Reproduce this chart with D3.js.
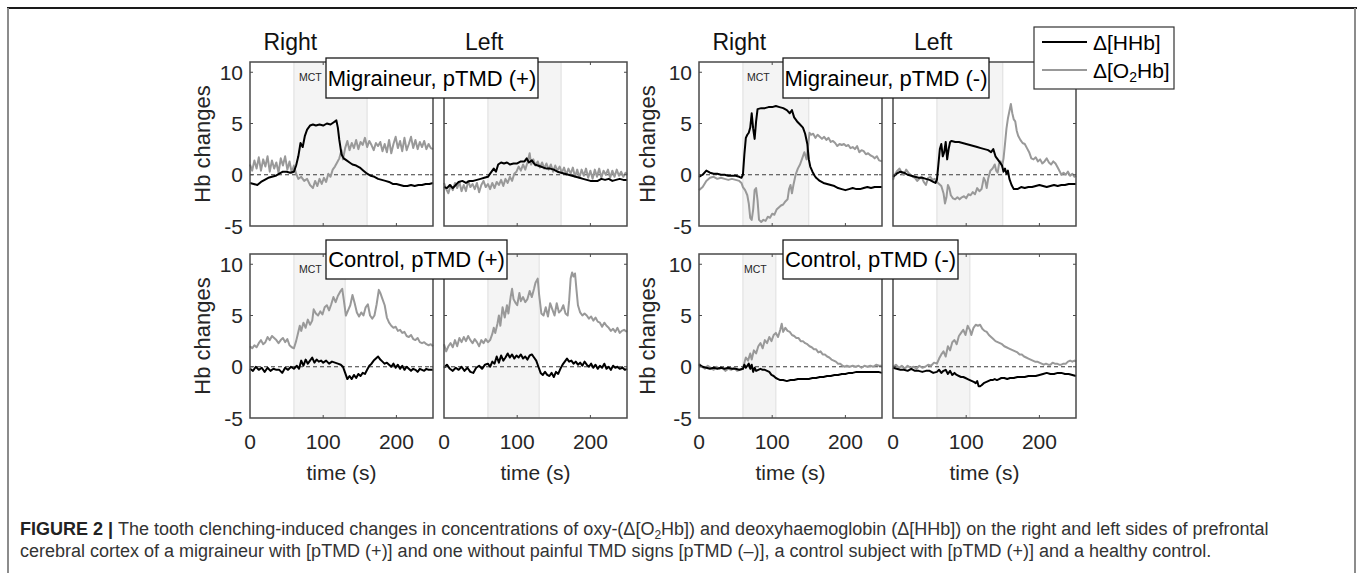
<!DOCTYPE html>
<html lang="en">
<head>
<meta charset="UTF-8">
<title>Figure 2 | Hb changes</title>
<style>
  * { box-sizing: border-box; }
  body { margin: 0; background: #fff; font-family: 'Liberation Sans', Arial, sans-serif; }
  svg text { font-family: 'Liberation Sans', Arial, sans-serif; }
</style>
</head>
<body>
<div id="chart"></div>
<script src="https://cdn.jsdelivr.net/npm/d3@7"></script>
<script>
// axis settings
const xDomain = [0, 250];
const yDomain = [-5, 11];
const xTicks = [0, 100, 200];
const yTicks = [-5, 0, 5, 10];
const sides = ['Right', 'Left'];
const groupLabels = ['Migraineur, pTMD (+)', 'Migraineur, pTMD (-)', 'Control, pTMD (+)', 'Control, pTMD (-)'];
// MCT (clenching) interval per subject, seconds
const mctIntervals = [[60, 160], [60, 150], [60, 130], [60, 105]];

// [time s, value]
const migPosRightHHb = [[0,-0.8],[5,-0.9],[10,-1.0],[15,-0.7],[20,-0.5],[25,-0.3],[30,-0.2],[35,-0.1],[40,0.1],[45,0.3],[50,0.3],[55,0.2],[60,0.3],[63,0.9],[66,1.8],[69,3.1],[72,2.7],[75,3.8],[78,4.4],[82,4.8],[86,4.9],[90,4.8],[95,4.9],[100,4.8],[105,5.0],[110,4.9],[114,5.1],[118,5.3],[120,4.6],[122,3.4],[125,2.0],[128,1.6],[132,1.4],[136,1.2],[140,1.0],[145,0.9],[150,0.7],[155,0.4],[160,0.1],[165,-0.1],[170,-0.2],[175,-0.4],[180,-0.5],[185,-0.6],[190,-0.7],[195,-0.9],[200,-0.9],[205,-1.0],[210,-1.1],[215,-1.1],[220,-1.0],[225,-1.1],[230,-1.0],[235,-1.0],[240,-0.9],[245,-0.9],[250,-0.8]];
const migPosRightO2Hb = [[0,1.0],[3,0.4],[6,1.4],[9,0.6],[12,1.7],[15,0.4],[18,1.5],[21,0.8],[24,1.8],[27,0.3],[30,1.4],[33,0.6],[36,1.2],[39,0.2],[42,1.6],[45,0.9],[48,1.8],[51,0.5],[54,1.3],[57,0.2],[60,0.9],[63,0.1],[66,-0.4],[70,-0.2],[74,-0.6],[78,-0.4],[82,-1.0],[86,-1.3],[89,-0.6],[92,-1.1],[95,-0.4],[98,-0.9],[101,-0.3],[104,-0.7],[107,0.1],[110,-0.2],[113,0.5],[116,0.8],[119,1.2],[122,1.6],[125,2.4],[127,1.5],[130,2.6],[133,3.3],[136,2.4],[139,3.1],[142,2.6],[145,3.4],[148,2.5],[151,3.2],[154,2.9],[157,3.6],[160,2.7],[163,3.3],[166,2.9],[169,2.4],[172,3.1],[175,2.8],[178,3.2],[181,2.3],[184,3.0],[187,2.2],[190,3.4],[193,2.1],[196,3.0],[199,3.7],[202,2.6],[205,3.3],[208,2.3],[211,3.6],[214,2.4],[217,3.0],[220,3.7],[223,2.6],[226,3.4],[229,2.5],[232,3.2],[235,2.7],[238,3.3],[241,2.5],[244,3.0],[247,2.6],[250,2.5]];
const migPosLeftHHb = [[0,-1.2],[4,-1.3],[8,-1.0],[12,-1.3],[16,-1.0],[20,-0.7],[25,-0.6],[30,-0.8],[35,-0.6],[40,-0.6],[45,-0.5],[50,-0.4],[55,-0.3],[60,-0.2],[64,0.2],[68,0.6],[71,0.3],[74,1.0],[78,1.2],[82,1.1],[86,1.2],[90,1.0],[95,1.1],[100,1.1],[105,1.3],[110,1.3],[113,1.6],[116,1.2],[120,1.4],[124,1.0],[128,0.9],[132,0.8],[136,0.7],[140,0.6],[145,0.6],[150,0.5],[155,0.3],[160,0.2],[165,0.1],[170,0.0],[175,-0.1],[180,-0.2],[185,-0.3],[190,-0.4],[195,-0.5],[200,-0.6],[205,-0.6],[210,-0.6],[215,-0.4],[220,-0.5],[225,-0.4],[230,-0.6],[235,-0.5],[240,-0.4],[245,-0.5],[250,-0.5]];
const migPosLeftO2Hb = [[0,-0.8],[3,-1.4],[6,-1.8],[9,-1.0],[12,-1.5],[15,-0.8],[18,-1.3],[21,-0.7],[24,-1.6],[27,-1.0],[30,-1.6],[33,-0.6],[36,-1.2],[39,-0.9],[42,-1.4],[45,-0.8],[48,-1.7],[51,-1.0],[54,-0.6],[57,-1.2],[60,-0.9],[63,-1.4],[66,-0.8],[69,-1.3],[72,-0.7],[75,-1.0],[78,-0.5],[81,-1.1],[84,-0.4],[87,-0.8],[90,-0.2],[93,-0.6],[96,0.1],[99,0.3],[102,0.8],[105,0.4],[108,1.0],[111,0.5],[114,1.2],[117,2.1],[119,1.0],[122,1.5],[125,0.9],[128,1.3],[131,0.7],[134,1.2],[137,0.6],[140,1.1],[143,0.5],[146,1.0],[149,0.3],[152,0.9],[155,0.4],[158,0.8],[161,0.2],[164,0.7],[167,0.0],[170,0.6],[173,0.1],[176,0.7],[179,-0.2],[182,0.5],[185,-0.3],[188,0.5],[191,-0.1],[194,0.6],[197,-0.3],[200,0.4],[203,-0.4],[206,0.5],[209,-0.2],[212,0.6],[215,-0.3],[218,0.4],[221,0.0],[224,0.5],[227,-0.3],[230,0.4],[233,-0.2],[236,0.5],[239,-0.1],[242,0.3],[245,-0.2],[248,0.2],[250,0.0]];

const migNegRightHHb = [[0,-0.2],[5,0.0],[10,0.4],[15,0.2],[20,0.1],[25,0.1],[30,0.0],[35,0.0],[40,-0.1],[45,-0.1],[50,-0.1],[55,-0.2],[58,-0.3],[60,0.0],[62,2.0],[64,3.6],[66,3.9],[68,4.1],[70,4.6],[72,6.0],[74,4.5],[76,3.5],[78,5.2],[80,6.4],[85,6.5],[90,6.5],[95,6.6],[100,6.6],[105,6.7],[110,6.6],[115,6.5],[120,6.3],[124,6.0],[127,6.3],[130,5.6],[134,5.2],[138,4.9],[142,4.6],[145,4.0],[148,3.0],[150,1.5],[152,0.8],[155,0.3],[158,-0.1],[160,-0.3],[165,-0.6],[170,-0.8],[175,-0.9],[180,-1.0],[185,-1.1],[190,-1.3],[195,-1.4],[200,-1.5],[205,-1.4],[210,-1.3],[215,-1.4],[220,-1.4],[225,-1.3],[230,-1.2],[235,-1.3],[240,-1.2],[245,-1.2],[250,-1.2]];
const migNegRightO2Hb = [[0,-1.5],[5,-1.2],[10,-0.6],[15,-0.3],[20,-0.2],[25,-0.4],[30,-0.3],[35,-0.4],[40,-0.5],[45,-0.4],[50,-0.5],[55,-0.6],[58,-0.8],[60,-1.2],[63,-1.5],[66,-2.0],[68,-2.8],[70,-4.2],[72,-4.4],[74,-3.4],[76,-1.5],[78,-1.3],[80,-2.5],[82,-4.4],[85,-4.6],[88,-4.4],[91,-4.5],[94,-4.1],[97,-4.2],[100,-3.8],[103,-3.9],[106,-3.4],[109,-3.2],[112,-3.0],[115,-2.9],[118,-2.6],[121,-2.4],[123,-1.4],[125,-1.0],[127,-1.8],[129,-1.0],[132,0.0],[135,0.6],[138,1.0],[141,1.6],[144,2.2],[147,1.5],[149,2.8],[151,4.1],[153,3.9],[156,4.0],[159,3.6],[162,3.9],[165,3.7],[168,3.5],[171,3.7],[174,3.4],[177,3.6],[180,3.2],[183,3.3],[186,3.1],[189,2.8],[192,3.0],[195,2.9],[198,3.0],[201,2.8],[204,2.9],[207,2.6],[210,2.7],[213,2.5],[216,2.8],[219,2.2],[222,2.4],[225,2.3],[228,2.0],[231,2.1],[234,1.9],[237,1.8],[240,1.6],[243,1.8],[246,1.4],[250,1.3]];
const migNegLeftHHb = [[0,-0.2],[5,0.1],[10,0.3],[15,0.2],[20,0.0],[25,-0.1],[30,-0.2],[35,-0.3],[40,-0.3],[45,-0.4],[50,-0.5],[55,-0.7],[58,-0.8],[60,-0.5],[62,1.0],[64,2.5],[66,3.0],[68,1.8],[70,2.2],[72,3.2],[74,1.5],[76,2.5],[78,3.2],[80,3.3],[85,3.2],[90,3.2],[95,3.1],[100,3.0],[105,2.9],[110,2.8],[115,2.7],[120,2.6],[125,2.5],[130,2.4],[134,2.2],[137,2.5],[140,1.8],[143,1.5],[146,1.2],[149,0.9],[151,0.3],[153,0.6],[155,0.1],[157,0.4],[159,-0.4],[162,-1.0],[165,-1.4],[170,-1.4],[175,-1.2],[180,-1.3],[185,-1.2],[190,-1.2],[195,-1.1],[200,-1.0],[205,-1.1],[210,-1.2],[215,-1.1],[220,-1.0],[225,-1.1],[230,-1.0],[235,-1.0],[240,-0.9],[245,-0.9],[250,-0.9]];
const migNegLeftO2Hb = [[0,-0.5],[3,0.1],[6,0.4],[9,0.6],[12,0.2],[15,0.0],[18,0.5],[21,0.2],[24,0.0],[27,-0.2],[30,-0.3],[33,-0.6],[36,-0.4],[39,-0.2],[42,-0.7],[45,-1.0],[48,-0.3],[51,-0.2],[54,-0.5],[57,-0.4],[60,-0.7],[63,-0.9],[66,-1.1],[69,-1.8],[71,-2.8],[73,-2.2],[75,-1.0],[77,-1.3],[79,-2.0],[82,-2.3],[85,-2.4],[88,-2.2],[91,-2.4],[94,-2.2],[97,-2.1],[100,-2.3],[103,-1.9],[106,-2.0],[109,-1.7],[112,-1.9],[115,-1.3],[118,-1.6],[121,-1.4],[124,-0.3],[126,-0.6],[128,-1.3],[130,-0.4],[133,0.4],[136,0.6],[139,1.0],[141,0.4],[143,0.2],[145,1.1],[147,1.3],[149,0.8],[151,1.6],[153,3.0],[155,4.5],[157,5.5],[159,6.2],[161,6.9],[163,6.0],[165,5.4],[167,5.2],[169,4.3],[171,3.8],[174,3.4],[177,3.1],[180,3.0],[183,2.6],[186,2.2],[189,1.6],[192,1.5],[195,1.7],[198,1.3],[201,1.5],[204,1.1],[207,1.3],[210,1.6],[213,1.2],[216,1.0],[219,1.3],[222,1.1],[225,0.7],[228,0.3],[230,0.0],[233,0.2],[236,0.0],[239,0.3],[242,-0.1],[245,0.1],[248,-0.2],[250,-0.1]];

const ctlPosRightHHb = [[0,-0.2],[4,-0.4],[8,0.0],[12,-0.3],[16,-0.1],[20,-0.5],[24,-0.1],[28,-0.4],[32,-0.2],[36,-0.3],[40,-0.3],[44,-0.6],[48,-0.1],[52,-0.3],[56,0.0],[60,-0.2],[64,0.1],[67,-0.2],[70,0.6],[73,0.1],[76,0.7],[79,0.3],[82,0.6],[85,0.9],[88,0.4],[91,0.7],[94,0.5],[97,0.6],[100,0.4],[104,0.6],[108,0.3],[112,0.5],[116,0.4],[120,0.3],[124,0.2],[127,0.0],[130,-0.6],[133,-1.2],[136,-0.9],[139,-1.2],[142,-0.8],[145,-1.1],[148,-0.7],[151,-0.9],[154,-0.6],[157,-0.7],[160,-0.3],[163,0.1],[166,0.3],[169,0.6],[172,0.8],[175,1.0],[178,0.7],[181,0.5],[184,0.3],[187,0.4],[190,0.2],[193,0.0],[196,0.3],[199,-0.1],[202,0.2],[205,-0.2],[208,0.1],[211,-0.3],[214,0.0],[217,-0.2],[220,-0.4],[223,-0.2],[226,-0.3],[229,-0.5],[232,-0.2],[235,-0.3],[238,-0.4],[241,-0.2],[244,-0.3],[247,-0.3],[250,-0.3]];
const ctlPosRightO2Hb = [[0,2.0],[3,1.8],[6,2.1],[9,1.9],[12,2.3],[15,2.6],[18,2.2],[21,2.4],[24,2.9],[27,2.6],[30,3.0],[33,2.8],[36,2.6],[39,2.3],[42,2.6],[45,2.8],[48,2.4],[51,2.7],[54,2.1],[57,1.9],[60,1.8],[63,2.5],[66,3.4],[68,4.0],[70,3.5],[73,4.3],[76,3.8],[79,4.6],[82,4.1],[85,4.5],[87,5.6],[90,5.2],[93,5.0],[96,5.4],[99,5.1],[102,5.8],[105,6.0],[108,5.5],[111,6.1],[114,6.8],[117,6.3],[120,6.9],[123,7.3],[126,7.6],[128,6.6],[131,5.0],[134,5.5],[137,6.0],[140,7.0],[143,6.2],[146,5.3],[149,4.9],[152,5.3],[155,5.0],[158,5.8],[161,6.1],[164,5.0],[167,4.7],[170,5.0],[173,6.1],[176,7.5],[178,7.2],[181,6.6],[184,6.0],[187,4.8],[190,4.3],[193,4.0],[196,3.8],[199,3.9],[202,3.5],[205,3.6],[208,3.3],[211,3.4],[214,3.0],[217,2.9],[220,3.1],[223,2.7],[226,2.6],[229,2.8],[232,2.4],[235,2.3],[238,2.4],[241,2.2],[244,2.1],[247,2.2],[250,2.0]];
const ctlPosLeftHHb = [[0,-0.1],[4,0.2],[8,-0.2],[12,-0.4],[16,-0.1],[20,-0.3],[24,0.0],[28,-0.4],[32,-0.1],[36,-0.5],[40,-0.6],[44,-0.1],[48,0.1],[52,-0.2],[56,0.2],[60,0.3],[63,0.0],[66,0.5],[69,0.3],[72,1.0],[75,0.4],[78,1.1],[81,0.6],[84,0.9],[87,1.3],[90,0.9],[93,1.2],[96,0.8],[99,1.1],[102,0.9],[105,1.2],[108,0.8],[111,1.0],[114,0.7],[117,1.1],[120,1.2],[123,0.9],[126,0.6],[129,0.0],[132,-0.6],[135,-0.8],[138,-0.5],[141,-0.8],[144,-0.9],[147,-0.6],[150,-1.0],[153,-0.5],[156,-0.7],[159,-0.2],[162,0.2],[165,0.5],[168,0.8],[171,0.5],[174,0.6],[177,0.3],[180,0.5],[183,0.2],[186,0.4],[189,0.1],[192,0.5],[195,0.2],[198,0.0],[201,0.3],[204,-0.1],[207,0.2],[210,-0.2],[213,0.1],[216,-0.1],[219,0.3],[222,-0.2],[225,0.0],[228,-0.3],[231,0.1],[234,-0.1],[237,0.0],[240,-0.2],[244,-0.1],[247,-0.3],[250,-0.2]];
const ctlPosLeftO2Hb = [[0,2.2],[3,1.5],[6,2.0],[9,2.3],[12,1.9],[15,2.6],[18,2.0],[21,2.8],[24,2.4],[27,2.9],[30,2.5],[33,3.0],[36,2.6],[39,2.3],[42,2.7],[45,2.4],[48,2.0],[51,2.6],[54,2.3],[57,2.7],[60,2.4],[63,2.6],[66,3.2],[68,3.8],[70,3.3],[73,4.2],[75,5.0],[77,4.0],[80,5.8],[83,4.8],[86,6.0],[88,5.2],[91,6.8],[93,7.6],[95,6.6],[98,6.2],[100,6.0],[103,7.2],[105,6.4],[108,6.8],[111,6.3],[114,6.6],[117,7.4],[120,6.8],[123,7.6],[125,8.2],[128,8.6],[130,7.0],[133,5.2],[136,5.0],[139,5.8],[142,4.9],[145,6.2],[148,5.6],[151,5.0],[154,6.2],[157,5.3],[160,5.5],[163,6.0],[166,5.2],[169,5.0],[171,6.5],[173,8.6],[175,9.2],[177,8.8],[179,9.1],[181,7.5],[183,6.0],[186,5.3],[189,5.0],[192,5.2],[195,5.0],[198,4.7],[201,4.9],[204,4.5],[207,4.8],[210,4.4],[213,4.3],[216,3.9],[219,4.3],[222,4.0],[225,3.8],[228,3.5],[231,3.7],[234,3.4],[237,3.8],[240,3.3],[243,3.5],[246,3.6],[250,3.4]];

const ctlNegRightHHb = [[0,0.2],[5,0.0],[10,-0.1],[15,-0.2],[20,-0.1],[25,-0.2],[30,-0.1],[35,-0.2],[40,-0.1],[45,-0.2],[50,-0.2],[55,-0.3],[60,-0.2],[62,0.2],[64,-0.1],[66,0.1],[68,0.3],[70,-0.2],[72,0.2],[74,-0.5],[76,-0.1],[78,-0.4],[81,-0.3],[84,-0.2],[87,-0.3],[90,-0.3],[93,-0.4],[96,-0.5],[99,-0.8],[102,-0.9],[105,-1.1],[108,-1.2],[111,-1.3],[115,-1.3],[120,-1.4],[125,-1.3],[130,-1.3],[135,-1.2],[140,-1.2],[145,-1.2],[150,-1.2],[155,-1.1],[160,-1.1],[165,-1.0],[170,-1.0],[175,-0.9],[180,-0.9],[185,-0.8],[190,-0.8],[195,-0.7],[200,-0.7],[205,-0.6],[210,-0.6],[215,-0.5],[220,-0.5],[225,-0.5],[230,-0.5],[235,-0.5],[240,-0.5],[245,-0.5],[250,-0.6]];
const ctlNegRightO2Hb = [[0,0.3],[4,0.0],[8,-0.2],[12,0.1],[16,-0.1],[20,-0.3],[24,0.0],[28,-0.2],[32,-0.1],[36,-0.4],[40,-0.2],[44,-0.3],[48,-0.1],[52,-0.4],[56,-0.3],[60,-0.2],[62,0.4],[64,0.9],[67,0.6],[70,1.3],[72,0.7],[75,1.6],[78,1.3],[81,2.0],[84,2.3],[87,1.8],[90,2.6],[93,2.3],[96,2.9],[99,2.5],[102,3.1],[105,3.3],[108,2.9],[111,3.6],[113,4.2],[115,3.4],[118,3.8],[121,3.5],[124,3.4],[127,3.1],[130,3.0],[133,2.8],[136,2.8],[139,2.5],[142,2.5],[145,2.3],[148,2.2],[151,2.0],[154,1.9],[157,1.7],[160,1.7],[163,1.4],[166,1.5],[169,1.2],[172,1.2],[175,1.0],[178,0.9],[181,0.7],[184,0.6],[187,0.5],[190,0.3],[193,0.3],[196,0.1],[199,0.0],[202,0.1],[206,0.0],[210,0.1],[214,0.0],[218,0.1],[222,-0.1],[226,0.1],[230,0.0],[234,0.1],[238,0.0],[242,0.2],[246,0.1],[250,0.1]];
const ctlNegLeftHHb = [[0,-0.1],[5,-0.2],[10,-0.3],[15,-0.3],[20,-0.4],[25,-0.2],[30,-0.4],[35,-0.4],[40,-0.5],[45,-0.4],[50,-0.4],[55,-0.6],[60,-0.5],[63,-0.3],[66,-0.6],[69,-0.4],[72,-0.3],[75,-0.7],[78,-0.4],[81,-0.8],[84,-0.6],[87,-0.8],[90,-0.9],[93,-1.0],[96,-1.0],[99,-1.1],[102,-1.2],[105,-1.3],[108,-1.4],[111,-1.5],[113,-1.6],[115,-1.4],[117,-1.9],[119,-1.9],[121,-1.8],[124,-1.6],[127,-1.5],[130,-1.4],[133,-1.3],[136,-1.3],[139,-1.2],[142,-1.3],[145,-1.2],[148,-1.1],[152,-1.1],[156,-1.2],[160,-1.1],[165,-1.1],[170,-1.0],[175,-1.0],[180,-1.0],[185,-0.9],[190,-0.9],[195,-0.9],[200,-0.8],[205,-0.7],[210,-0.6],[215,-0.7],[220,-0.7],[225,-0.6],[230,-0.6],[235,-0.7],[240,-0.7],[245,-0.8],[250,-0.9]];
const ctlNegLeftO2Hb = [[0,0.0],[4,0.2],[8,-0.1],[12,0.1],[16,-0.2],[20,0.1],[24,-0.1],[28,0.0],[32,-0.2],[36,0.1],[40,-0.1],[44,0.0],[48,0.2],[52,0.1],[56,0.4],[60,0.3],[63,0.8],[66,1.2],[69,1.5],[72,1.0],[75,2.0],[78,1.6],[81,2.4],[84,2.6],[87,2.2],[90,3.0],[93,3.3],[96,3.6],[99,3.1],[102,4.0],[105,3.6],[107,3.1],[110,3.8],[113,4.1],[116,4.0],[119,4.1],[122,3.7],[125,3.5],[128,3.4],[131,3.1],[134,2.9],[137,2.7],[140,2.5],[143,2.4],[146,2.3],[149,2.2],[152,2.0],[155,1.9],[158,1.8],[161,1.7],[164,1.6],[167,1.5],[170,1.4],[173,1.2],[176,1.2],[179,1.0],[182,0.9],[185,0.8],[188,0.7],[191,0.6],[194,0.5],[197,0.5],[200,0.4],[203,0.3],[206,0.2],[209,0.3],[212,0.2],[215,0.2],[218,0.4],[221,0.3],[224,0.3],[227,0.2],[230,0.2],[233,0.3],[236,0.3],[239,0.5],[242,0.6],[245,0.5],[248,0.6],[250,0.5]];

const HHB = '#000000', O2HB = '#999999';
const W = 1357, H = 573;
const pw = 183, ph = 164;
const groupX = [250, 699];          // left edge of the "Right" panel in each column group
const gap = 194;                     // offset to the "Left" panel
const rowY = [62, 254];

const subjects = [
  { label: groupLabels[0], mct: mctIntervals[0], col: 0, row: 0, right: [migPosRightHHb, migPosRightO2Hb], left: [migPosLeftHHb, migPosLeftO2Hb], box: [326, 58, 212, 40], mctX: 299 },
  { label: groupLabels[1], mct: mctIntervals[1], col: 1, row: 0, right: [migNegRightHHb, migNegRightO2Hb], left: [migNegLeftHHb, migNegLeftO2Hb], box: [783, 58, 206, 40], mctX: 747 },
  { label: groupLabels[2], mct: mctIntervals[2], col: 0, row: 1, right: [ctlPosRightHHb, ctlPosRightO2Hb], left: [ctlPosLeftHHb, ctlPosLeftO2Hb], box: [326, 240, 181, 39], mctX: 299 },
  { label: groupLabels[3], mct: mctIntervals[3], col: 1, row: 1, right: [ctlNegRightHHb, ctlNegRightO2Hb], left: [ctlNegLeftHHb, ctlNegLeftO2Hb], box: [783, 240, 175, 39], mctX: 744 }
];

const svg = d3.select('#chart').append('svg').attr('width', W).attr('height', H);

// page frame
svg.append('line').attr('x1', 7).attr('x2', W).attr('y1', 8).attr('y2', 8).attr('stroke', '#1a1a1a').attr('stroke-width', 2);
svg.append('line').attr('x1', 8).attr('x2', 8).attr('y1', 8).attr('y2', H).attr('stroke', '#8c8c8c').attr('stroke-width', 2);
svg.append('line').attr('x1', W - 2).attr('x2', W - 2).attr('y1', 8).attr('y2', H).attr('stroke', '#8c8c8c').attr('stroke-width', 2);

const axisColor = '#4a4a4a', textColor = '#262626';

subjects.forEach(s => {
  const y0 = rowY[s.row];
  const y = d3.scaleLinear().domain(yDomain).range([y0 + ph, y0]);
  [s.right, s.left].forEach((series, k) => {
    const x0 = groupX[s.col] + k * gap;
    const x = d3.scaleLinear().domain(xDomain).range([x0, x0 + pw]);
    const g = svg.append('g');
    // MCT shading
    g.append('rect').attr('x', x(s.mct[0])).attr('y', y0).attr('width', x(s.mct[1]) - x(s.mct[0])).attr('height', ph).attr('fill', '#f4f4f4');
    s.mct.forEach(t => g.append('line').attr('x1', x(t)).attr('x2', x(t)).attr('y1', y0).attr('y2', y0 + ph).attr('stroke', '#dedede').attr('stroke-width', 1));
    // zero reference
    g.append('line').attr('x1', x(0)).attr('x2', x(250)).attr('y1', y(0)).attr('y2', y(0))
      .attr('stroke', '#3a3a3a').attr('stroke-width', 1).attr('stroke-dasharray', '4,3');
    // series
    const line = d3.line().x(d => x(d[0])).y(d => y(d[1]));
    g.append('path').datum(series[1]).attr('d', line).attr('fill', 'none').attr('stroke', O2HB).attr('stroke-width', 2).attr('stroke-linejoin', 'round');
    g.append('path').datum(series[0]).attr('d', line).attr('fill', 'none').attr('stroke', HHB).attr('stroke-width', 2).attr('stroke-linejoin', 'round');
    // inner ticks (matlab style)
    xTicks.filter(t => t > 0).forEach(t => {
      g.append('line').attr('x1', x(t)).attr('x2', x(t)).attr('y1', y0 + ph).attr('y2', y0 + ph - 3).attr('stroke', axisColor);
      g.append('line').attr('x1', x(t)).attr('x2', x(t)).attr('y1', y0).attr('y2', y0 + 3).attr('stroke', axisColor);
    });
    yTicks.filter(t => t > yDomain[0]).forEach(t => {
      g.append('line').attr('x1', x0).attr('x2', x0 + 3).attr('y1', y(t)).attr('y2', y(t)).attr('stroke', axisColor);
      g.append('line').attr('x1', x0 + pw).attr('x2', x0 + pw - 3).attr('y1', y(t)).attr('y2', y(t)).attr('stroke', axisColor);
    });
    // box
    g.append('rect').attr('x', x0).attr('y', y0).attr('width', pw).attr('height', ph)
      .attr('fill', 'none').attr('stroke', axisColor).attr('stroke-width', 1.5);

    // y tick labels on the "Right" panel only
    if (k === 0) {
      g.selectAll('.yt').data(yTicks).join('text')
        .attr('x', x0 - 7).attr('y', d => y(d)).attr('dy', '0.36em')
        .attr('text-anchor', 'end').attr('font-size', 21).attr('fill', textColor)
        .text(d => d);
      g.append('text').attr('transform', `translate(${x0 - (s.col === 0 ? 40 : 44)},${y0 + ph / 2}) rotate(-90)`)
        .attr('text-anchor', 'middle').attr('font-size', 22).attr('fill', textColor).text('Hb changes');
      g.append('text').attr('x', s.mctX).attr('y', y0 + 19).attr('font-size', 10.5).attr('fill', textColor).text('MCT');
    }
    if (s.row === 0) {
      g.append('text').attr('x', x(55)).attr('y', 50).attr('text-anchor', 'middle')
        .attr('font-size', 23).attr('fill', '#111').text(sides[k]);
    } else {
      g.selectAll('.xt').data(xTicks).join('text')
        .attr('x', d => x(d)).attr('y', y0 + ph + 31).attr('text-anchor', 'middle')
        .attr('font-size', 21).attr('fill', textColor).text(d => d);
      g.append('text').attr('x', x0 + pw / 2).attr('y', y0 + ph + 62).attr('text-anchor', 'middle')
        .attr('font-size', 21).attr('fill', textColor).text('time (s)');
    }
  });
  // subject label box
  const [bx, by, bw, bh] = s.box;
  svg.append('rect').attr('x', bx).attr('y', by).attr('width', bw).attr('height', bh)
    .attr('fill', '#fff').attr('stroke', '#1a1a1a').attr('stroke-width', 1.3);
  svg.append('text').attr('x', bx + bw / 2).attr('y', by + bh / 2).attr('dy', '0.36em')
    .attr('text-anchor', 'middle').attr('font-size', 22).attr('fill', '#000').text(s.label);
});

// legend
const lg = svg.append('g');
lg.append('rect').attr('x', 1034).attr('y', 27).attr('width', 140).attr('height', 62)
  .attr('fill', '#fff').attr('stroke', '#333').attr('stroke-width', 1.2);
[[HHB, 42], [O2HB, 70]].forEach(([c, yy], i) => {
  lg.append('line').attr('x1', 1042).attr('x2', 1087).attr('y1', yy).attr('y2', yy).attr('stroke', c).attr('stroke-width', 2);
  const t = lg.append('text').attr('x', 1093).attr('y', yy).attr('dy', '0.36em').attr('font-size', 21).attr('fill', '#000');
  if (i === 0) t.text('Δ[HHb]');
  else {
    t.append('tspan').text('Δ[O');
    t.append('tspan').attr('font-size', 14).attr('dy', '0.35em').text('2');
    t.append('tspan').attr('dy', '-0.23em').text('Hb]');
  }
});

// caption
const cap = svg.append('g').attr('font-size', 18).attr('fill', '#333');
const c1 = cap.append('text').attr('x', 20).attr('y', 535);
c1.append('tspan').attr('font-weight', 'bold').attr('fill', '#222').text('FIGURE 2 | ');
c1.append('tspan').text('The tooth clenching-induced changes in concentrations of oxy-(Δ[O');
c1.append('tspan').attr('font-size', 12).attr('dy', 4).text('2');
c1.append('tspan').attr('dy', -4).text('Hb]) and deoxyhaemoglobin (Δ[HHb]) on the right and left sides of prefrontal');
cap.append('text').attr('x', 20).attr('y', 557)
  .text('cerebral cortex of a migraineur with [pTMD (+)] and one without painful TMD signs [pTMD (–)], a control subject with [pTMD (+)] and a healthy control.');
</script>
</body>
</html>
